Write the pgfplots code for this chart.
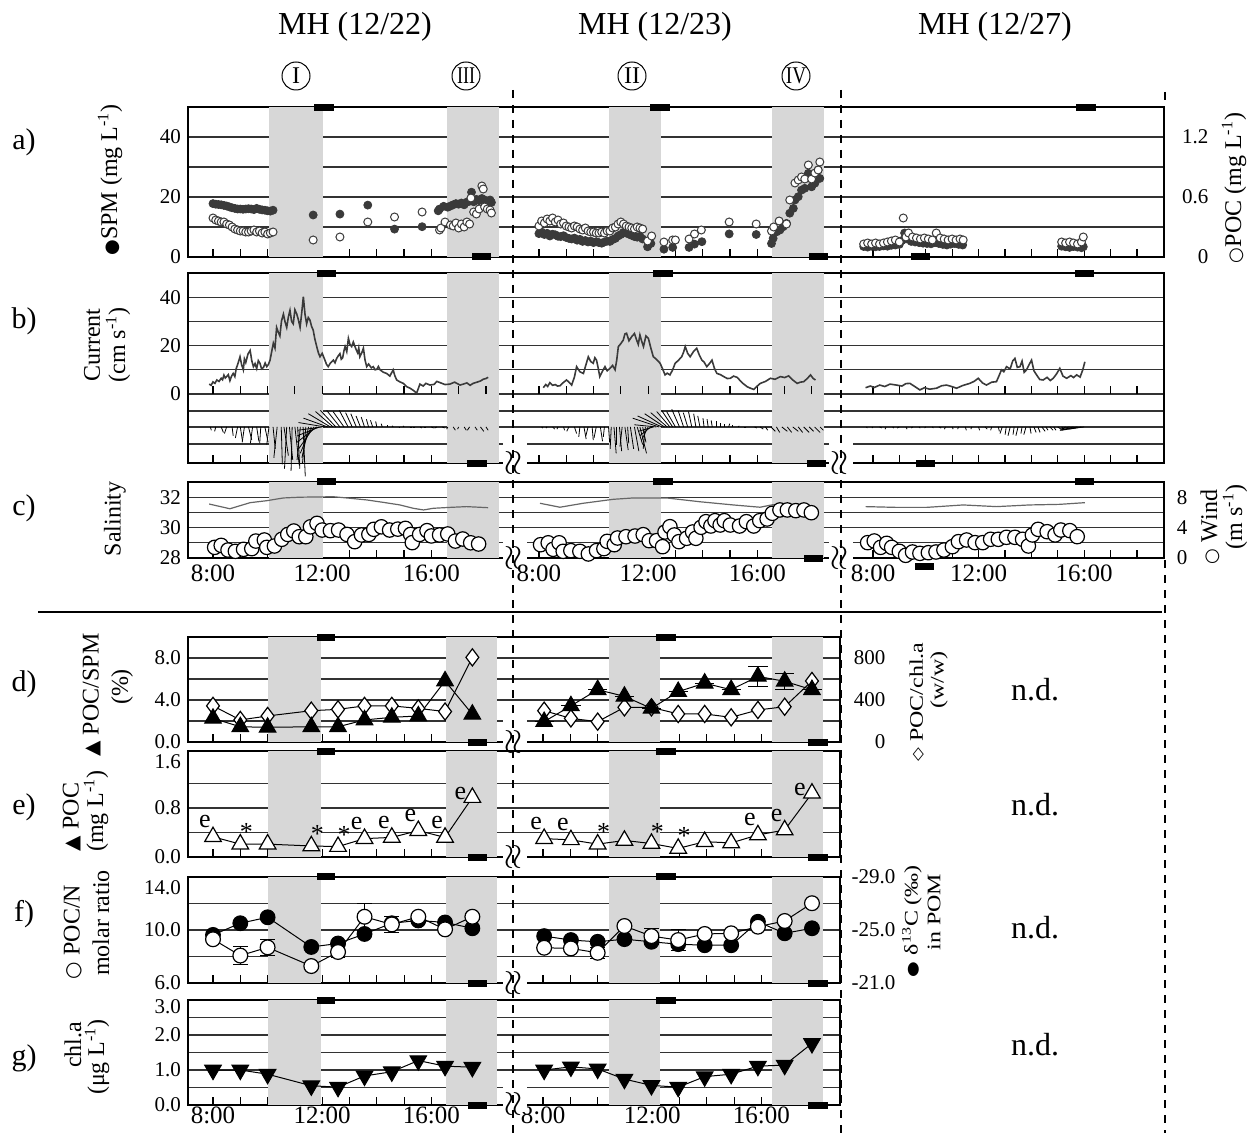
\documentclass[border=0pt]{standalone}
\usepackage{fontspec}
\setmainfont{Liberation Serif}
\newfontfamily\sym{DejaVu Sans}
\usepackage{pgfplots}
\usepackage{pgfplotstable}
\pgfplotsset{compat=1.18}
\definecolor{dk}{HTML}{3A3A3A}
\definecolor{shd}{HTML}{D7D7D7}
\newcommand\fs[1]{\fontsize{#1}{#1}\selectfont}
\newcommand\bbar[4][0pt]{\fill[black] ([yshift=-1.75pt+#1]axis cs:#2,#4) rectangle ([yshift=1.75pt+#1]axis cs:#3,#4);}

\pgfplotsset{
  panel/.style={scale only axis, anchor=south west, clip=false, set layers,
    xmin=7.084, axis line style={line width=0.7pt},
    ymajorgrids, grid style={black!80, line width=0.6pt},
    tick align=inside, xtick pos=left, major tick length=4pt,
    xtick style={black, line width=0.6pt}, ytick style={draw=none},
    xticklabel style={font=\fs{12.5}}, yticklabel style={font=\fs{10.5}}, xticklabels={}},
  upx/.style={xmax=42.84, width=488pt,
    xtick={8,9,10,11,12,13,14,15,16,17,18,19.94,20.94,21.94,22.94,23.94,24.94,25.94,26.94,27.94,28.94,29.94,32.18,33.147,34.114,35.081,36.048,37.015,37.982,38.949,39.916,40.883,41.85}},
  lowx/.style={xmax=30.967, width=326pt,
    xtick={8,9,10,11,12,13,14,15,16,17,18,20.09,21.09,22.09,23.09,24.09,25.09,26.09,27.09,28.09,29.09,30.09}},
  rlab/.style={scale only axis, anchor=south west, xmin=7.084, axis x line=none, axis y line*=right,
    ytick style={draw=none},
    yticklabel style={font=\fs{10.5}, text width=#1, align=right, inner sep=0pt}},
  dots/.style={only marks, mark=*, mark size=2pt, mark options={fill=dk, draw=dk}},
  ocirc/.style={only marks, mark=*, mark size=2pt, mark options={fill=white, draw=dk, line width=0.5pt}},
  sal/.style={black!60, line width=0.6pt},
  wind/.style={only marks, mark=*, mark size=3.6pt, mark options={fill=white, draw=black, line width=0.6pt}},
  cur/.style={dk, line width=0.8pt},
  stk/.style={black, line width=0.4pt, quiver={u=\thisrow{e}*0.0403, v=\thisrow{n}*0.4545}},
  ln/.style={black, line width=0.5pt},
}

% ---------- a) SPM (mg/L) and POC (mg/L)
\pgfplotstableread{
t v
8.0 17.8
8.1 17.6
8.2 17.5
8.3 17.4
8.4 17.2
8.5 17.0
8.6 16.7
8.7 16.4
8.8 16.2
8.9 16.0
9.0 16.0
9.1 15.9
9.2 16.0
9.3 16.1
9.4 16.0
9.5 15.8
9.6 16.2
9.7 15.9
9.8 15.7
9.9 15.6
10.0 15.4
10.1 15.3
10.2 15.6
11.67 14.0
12.65 14.3
13.67 17.3
14.65 9.3
15.66 10.1
16.25 15.4
16.3 16.0
16.45 16.9
16.6 16.6
16.7 17.0
16.8 17.4
16.9 17.8
17.0 17.6
17.1 18.0
17.2 17.4
17.3 18.3
17.4 18.6
17.47 21.6
17.55 18.4
17.65 19.2
17.75 18.8
17.85 19.5
17.95 19.0
18.05 18.6
18.15 19.0
18.2 18.2
}\spmA
\pgfplotstableread{
t v
8.0 0.39
8.1 0.37
8.2 0.36
8.3 0.35
8.4 0.35
8.5 0.33
8.6 0.32
8.7 0.30
8.8 0.28
8.9 0.27
9.0 0.26
9.1 0.26
9.2 0.25
9.3 0.25
9.4 0.26
9.5 0.27
9.6 0.25
9.7 0.26
9.8 0.24
9.9 0.25
10.0 0.23
10.1 0.24
10.2 0.25
11.67 0.17
12.65 0.20
13.67 0.35
14.65 0.40
15.66 0.45
16.3 0.27
16.35 0.29
16.5 0.35
16.7 0.32
16.8 0.31
16.9 0.34
17.0 0.29
17.1 0.33
17.2 0.30
17.3 0.35
17.4 0.33
17.45 0.59
17.55 0.45
17.65 0.43
17.75 0.48
17.85 0.71
17.9 0.68
17.95 0.50
18.05 0.48
18.15 0.47
18.2 0.44
}\pocA
\pgfplotstableread{
t v
8.0 7.8
8.1 8.3
8.2 7.5
8.3 7.9
8.4 7.0
8.5 7.6
8.6 7.4
8.7 6.9
8.8 6.8
8.9 7.1
9.0 6.5
9.1 6.2
9.2 6.0
9.3 6.3
9.4 5.6
9.5 5.9
9.6 5.2
9.7 5.5
9.8 5.0
9.9 5.3
10.0 4.8
10.1 5.1
10.2 4.8
10.3 4.6
10.4 5.0
10.5 5.3
10.6 5.2
10.7 5.8
10.8 6.2
10.9 7.0
11.0 7.5
11.1 8.2
11.2 8.0
11.3 7.6
11.4 7.2
11.5 6.8
11.6 6.6
11.7 6.9
11.8 6.0
11.98 3.4
12.1 4.5
12.58 2.6
12.9 3.2
13.5 3.2
13.7 4.3
13.97 5.1
14.97 7.7
15.96 7.5
16.52 4.5
16.58 6.2
16.71 8.4
16.83 9.0
16.95 10.1
17.07 11.2
17.19 14.6
17.32 16.2
17.38 19.0
17.50 20.1
17.62 22.3
17.74 22.9
17.87 27.9
17.99 23.4
18.11 24.6
18.23 29.0
18.29 26.2
}\spmB
\pgfplotstableread{
t v
8.0 0.31
8.1 0.36
8.2 0.34
8.3 0.38
8.4 0.36
8.5 0.39
8.6 0.35
8.7 0.37
8.8 0.33
8.9 0.34
9.0 0.31
9.1 0.30
9.2 0.29
9.3 0.31
9.4 0.30
9.5 0.28
9.6 0.27
9.7 0.29
9.8 0.26
9.9 0.25
10.0 0.25
10.1 0.24
10.2 0.24
10.3 0.25
10.4 0.24
10.5 0.26
10.6 0.26
10.7 0.29
10.8 0.30
10.9 0.33
11.0 0.35
11.1 0.33
11.2 0.31
11.3 0.30
11.4 0.29
11.5 0.28
11.6 0.30
11.7 0.29
11.8 0.28
11.98 0.16
12.13 0.21
12.58 0.15
12.9 0.17
13.0 0.17
13.5 0.18
13.7 0.23
13.95 0.27
14.97 0.35
15.96 0.33
16.52 0.26
16.6 0.30
16.8 0.36
17.07 0.33
17.19 0.57
17.38 0.74
17.50 0.77
17.62 0.80
17.74 0.78
17.87 0.92
17.99 0.78
18.11 0.84
18.23 0.87
18.29 0.95
}\pocB
\pgfplotstableread{
t v
7.65 3.5
7.8 3.3
7.95 3.6
8.1 3.4
8.25 3.5
8.4 3.7
8.55 3.6
8.7 3.9
8.85 4.0
9.0 4.2
9.1 5.5
9.2 8.0
9.3 6.0
9.45 5.2
9.6 5.0
9.75 4.8
9.9 4.6
10.05 4.5
10.2 4.4
10.35 4.8
10.5 4.5
10.65 4.2
10.8 4.0
10.95 4.3
11.1 4.5
11.25 4.2
11.4 4.0
15.15 3.6
15.3 3.4
15.45 3.2
15.6 3.5
15.75 3.3
15.9 3.1
15.97 3.4
}\spmC
\pgfplotstableread{
t v
7.65 0.13
7.8 0.14
7.95 0.13
8.1 0.14
8.25 0.13
8.4 0.14
8.55 0.15
8.7 0.16
8.85 0.17
9.0 0.15
9.15 0.39
9.25 0.20
9.35 0.24
9.5 0.20
9.65 0.19
9.8 0.18
9.95 0.19
10.1 0.18
10.25 0.17
10.4 0.24
10.55 0.19
10.7 0.18
10.85 0.17
11.0 0.18
11.15 0.17
11.3 0.18
11.42 0.17
15.15 0.15
15.3 0.14
15.45 0.15
15.6 0.14
15.75 0.13
15.9 0.15
15.97 0.20
}\pocC

% ---------- b) current speed (cm/s) and stick vectors (east, north)
\pgfplotstableread{
t v
7.86 4.1
7.93 3.6
8.0 5.0
8.07 4.4
8.14 5.8
8.22 5.2
8.3 6.5
8.35 5.9
8.4 7.8
8.45 6.6
8.5 7.2
8.56 8.0
8.62 5.5
8.68 7.4
8.74 8.5
8.8 7.2
8.85 10.5
8.92 12.8
8.99 15.4
9.05 12.0
9.11 10.0
9.15 14.5
9.2 13.0
9.28 16.5
9.36 18.0
9.42 13.8
9.48 11.3
9.54 12.6
9.6 10.5
9.66 13.8
9.72 12.7
9.78 10.4
9.85 11.0
9.91 12.8
9.97 11.3
10.03 12.2
10.09 14.0
10.15 17.5
10.21 21.0
10.27 19.0
10.33 27.5
10.39 25.6
10.45 24.0
10.51 30.2
10.58 33.0
10.64 29.8
10.70 27.5
10.76 31.8
10.82 34.6
10.88 30.0
10.94 29.0
11.0 34.8
11.07 33.0
11.13 30.6
11.19 27.5
11.25 33.5
11.31 40.2
11.37 33.0
11.43 29.0
11.49 31.6
11.55 30.6
11.61 28.0
11.67 26.4
11.73 22.8
11.80 19.6
11.86 17.0
11.92 15.4
12.0 16.8
12.10 14.0
12.16 12.2
12.22 11.3
12.3 12.8
12.41 14.0
12.47 12.9
12.53 14.7
12.59 15.8
12.65 16.7
12.7 14.4
12.75 15.0
12.8 18.0
12.84 19.6
12.9 17.5
12.96 23.0
13.02 20.4
13.08 19.6
13.14 21.5
13.20 19.6
13.25 18.2
13.30 17.0
13.34 19.0
13.38 15.4
13.45 17.0
13.51 18.9
13.57 14.0
13.63 11.3
13.7 12.4
13.8 10.8
13.87 11.3
13.94 10.0
14.0 10.2
14.06 11.4
14.12 10.0
14.24 9.0
14.36 8.5
14.48 7.4
14.60 10.0
14.66 7.6
14.73 5.8
14.85 5.0
14.97 4.4
15.1 3.0
15.22 2.4
15.34 1.5
15.46 0.4
15.52 2.2
15.58 4.1
15.7 3.3
15.8 4.4
15.95 3.7
16.1 4.0
16.2 5.2
16.32 4.7
16.5 3.9
16.68 4.1
16.85 4.9
17.05 3.7
17.2 4.2
17.30 4.6
17.42 3.6
17.53 4.4
17.7 5.0
17.80 5.4
17.90 6.1
18.0 6.4
18.08 6.9
}\curA
\pgfplotstableread{
t v
8.16 2.6
8.25 3.9
8.32 3.1
8.40 4.7
8.5 3.6
8.6 3.9
8.68 3.3
8.77 3.4
8.88 4.6
9.01 5.8
9.1 4.9
9.20 3.7
9.3 7.0
9.38 11.3
9.5 9.2
9.63 8.5
9.72 12.0
9.81 15.4
9.9 13.4
9.99 12.7
10.05 15.0
10.11 14.0
10.17 10.8
10.23 7.2
10.33 9.5
10.42 11.3
10.5 9.6
10.60 10.6
10.7 11.8
10.79 10.0
10.85 14.0
10.91 19.6
11.0 20.8
11.09 22.3
11.15 24.8
11.21 25.1
11.3 22.0
11.40 23.7
11.5 25.0
11.58 22.3
11.64 20.5
11.70 24.4
11.76 22.0
11.83 19.6
11.92 24.0
12.01 23.0
12.1 19.0
12.19 15.4
12.3 14.4
12.44 12.7
12.53 10.4
12.62 7.9
12.7 8.6
12.80 7.9
12.9 10.0
12.99 12.7
13.1 13.8
13.23 15.4
13.3 17.3
13.36 19.6
13.45 16.8
13.54 15.4
13.66 17.5
13.78 18.9
13.88 16.0
13.97 14.0
14.05 13.2
14.15 11.3
14.25 12.6
14.34 14.0
14.43 10.6
14.52 8.5
14.65 8.0
14.77 7.2
14.9 6.4
15.01 6.5
15.13 7.4
15.26 6.9
15.45 4.6
15.63 3.0
15.75 2.4
15.87 1.9
16.0 3.3
16.11 4.4
16.3 5.2
16.48 6.5
16.65 6.1
16.85 7.2
17.0 6.8
17.15 7.5
17.3 5.8
17.46 4.4
17.58 4.9
17.70 5.1
17.83 6.4
17.95 7.9
18.05 6.4
18.13 5.8
}\curB
\pgfplotstableread{
t v
7.72 2.6
7.9 3.3
8.05 2.7
8.26 3.7
8.45 3.1
8.65 4.1
8.89 3.7
9.1 3.3
9.25 4.3
9.40 4.4
9.6 3.0
9.78 1.7
9.95 2.6
10.15 2.0
10.41 2.4
10.6 3.4
10.79 3.7
10.98 3.1
11.17 2.4
11.4 3.5
11.67 4.4
11.83 5.2
11.99 6.5
12.15 4.6
12.30 3.7
12.5 4.9
12.68 5.1
12.78 7.6
12.87 10.0
12.96 9.2
13.06 11.3
13.2 10.4
13.3 13.8
13.38 14.7
13.47 11.0
13.57 11.3
13.65 13.6
13.73 9.0
13.82 10.0
13.92 12.2
14.01 14.0
14.1 9.6
14.20 7.9
14.32 6.0
14.45 5.8
14.6 6.9
14.72 5.6
14.83 6.5
14.95 8.2
15.08 10.6
15.2 7.4
15.34 6.5
15.5 7.6
15.6 6.8
15.72 7.9
15.85 7.0
15.95 10.0
16.03 13.3
}\curC
\pgfplotstableread{
t e n
7.9 1 -3
8.1 -1 -4
8.3 2 -5
8.5 -2 -6
8.7 1 -8
8.9 -2 -10
9.0 2 -13
9.15 -2 -14
9.3 3 -12
9.45 -2 -15
9.6 2 -13
9.75 -1 -15
9.9 3 -14
10.05 -2 -16
10.2 2 -20
10.35 -3 -28
10.5 1 -34
10.6 4 -26
10.7 -2 -38
10.8 3 -30
10.9 -1 -40
11.0 4 -35
11.1 2 -38
11.2 -3 -30
11.3 2 -45
11.4 -3 -33
11.5 -6 -28
11.6 -10 -24
11.7 -14 -20
11.8 -18 -14
11.9 -20 -8
12.0 -22 -3
12.1 -24 4
12.2 -22 8
12.3 -20 12
12.4 -16 14
12.5 -14 15
12.65 -12 15
12.8 -10 14
12.95 -8 15
13.1 -6 13
13.25 -5 12
13.4 -4 10
13.55 -3 9
13.7 -2 7
13.85 -2 6
14.0 -1 5
14.2 -1 3
14.4 0 2
14.6 -1 1
14.8 1 0
15.0 -1 1
15.2 2 0
15.4 -2 0
15.6 1 -1
15.8 -2 0
16.0 2 -1
16.2 -2 -1
16.4 2 -1
16.6 -1 -2
16.8 2 -3
17.0 -1 -2
17.2 2 -3
17.4 -2 -3
17.6 2 -3
17.8 3 -4
18.0 2 -3
}\stkA
\pgfplotstableread{
t e n
8.1 1 -1
8.3 -1 -1
8.5 2 -2
8.7 -1 -2
8.9 1 -3
9.1 -2 -4
9.3 2 -6
9.5 -1 -9
9.65 2 -11
9.8 -2 -8
9.95 1 -12
10.1 -2 -10
10.25 2 -13
10.4 -1 -9
10.55 1 -14
10.65 -1 -20
10.75 2 -24
10.85 0 -16
10.95 2 -22
11.05 -2 -18
11.15 3 -21
11.25 1 -15
11.35 3 -20
11.5 4 -22
11.6 5 -16
11.7 6 -24
11.8 3 -14
11.9 -2 -20
12.0 -6 -12
12.1 -10 -8
12.2 -14 -4
12.3 -20 2
12.4 -24 8
12.5 -22 10
12.6 -18 12
12.7 -15 13
12.8 -12 14
12.9 -10 15
13.0 -8 14
13.15 -7 16
13.3 -5 15
13.45 -4 13
13.6 -3 14
13.75 -2 12
13.9 -2 10
14.05 -1 8
14.2 -1 7
14.35 -1 6
14.5 0 5
14.65 0 4
14.8 0 3
14.95 1 3
15.1 0 2
15.3 1 1
15.6 -2 0
15.9 2 -1
16.1 3 -2
16.3 2 -3
16.5 4 -4
16.7 3 -5
16.9 5 -4
17.1 4 -5
17.3 5 -4
17.5 4 -5
17.7 5 -5
17.9 4 -4
18.1 5 -5
18.3 3 -3
}\stkB
\pgfplotstableread{
t e n
7.75 1 -1
8.0 -1 -1
8.25 2 -1
8.5 -1 -2
8.75 1 -1
9.0 -2 -1
9.25 1 -2
9.5 -1 -1
9.75 1 -1
10.0 -1 -1
10.25 1 -1
10.5 2 -1
10.75 -1 -2
11.0 1 -2
11.25 -1 -2
11.5 1 -3
11.75 -1 -2
12.0 1 -3
12.25 2 -2
12.5 -1 -3
12.75 1 -4
12.9 -2 -6
13.05 -1 -7
13.2 -2 -8
13.35 -1 -7
13.5 -2 -8
13.65 -1 -6
13.8 -2 -7
13.95 1 -6
14.1 2 -5
14.25 2 -5
14.4 3 -4
14.55 2 -3
14.7 3 -3
14.85 2 -3
15.0 3 -2
15.15 2 -2
15.3 -4 -2
15.45 -8 -2
15.6 -12 -3
15.75 -16 -3
15.9 -18 -3
16.0 -14 -2
}\stkC

% ---------- c) salinity and wind (m/s)
\pgfplotstableread{
t s
7.86 31.55
8.62 31.24
9.36 31.64
9.97 31.77
10.58 31.95
11.19 32.00
12.41 32.03
13.02 31.93
13.63 31.82
14.24 31.66
14.85 31.49
15.34 31.27
15.71 31.16
16.07 31.27
16.68 31.33
17.29 31.38
18.08 31.31
}\salA
\pgfplotstableread{
t s
8.04 31.60
8.77 31.34
9.62 31.60
10.72 31.86
11.45 31.95
12.68 31.95
13.90 31.70
15.12 31.49
16.10 31.34
16.58 31.51
17.32 31.51
17.99 31.38
}\salB
\pgfplotstableread{
t s
7.72 31.38
8.89 31.33
10.03 31.33
11.42 31.49
12.68 31.38
13.94 31.49
15.08 31.53
16.03 31.64
}\salC
\pgfplotstableread{
t w
8.06 1.40
8.30 1.66
8.55 1.05
8.82 0.88
9.12 1.14
9.42 1.23
9.57 2.23
9.88 2.37
9.97 1.40
10.25 1.58
10.52 2.46
10.74 3.10
10.96 3.55
11.16 2.80
11.40 2.80
11.57 4.10
11.81 4.56
12.00 3.68
12.30 3.60
12.60 3.68
12.91 3.10
13.19 2.15
13.44 3.03
13.71 3.10
13.89 3.77
14.17 4.10
14.47 3.68
14.77 3.80
15.05 3.90
15.24 3.10
15.30 2.02
15.57 3.10
15.84 3.60
16.00 2.90
16.30 3.03
16.60 3.16
16.88 2.23
17.15 2.50
17.44 2.00
17.73 1.84
}\wndA
\pgfplotstableread{
t w
8.06 1.75
8.34 2.00
8.52 1.14
8.74 2.00
8.89 0.88
9.17 0.97
9.50 0.88
9.81 0.53
10.11 0.97
10.38 1.23
10.50 2.19
10.76 1.75
10.88 2.63
11.19 2.80
11.52 2.89
11.82 3.07
12.04 2.28
12.31 2.28
12.53 1.49
12.62 3.42
12.80 4.12
12.96 3.03
13.13 2.15
13.41 2.59
13.63 3.42
13.75 2.59
13.94 4.04
14.12 4.78
14.30 4.21
14.45 4.91
14.64 4.34
14.79 4.91
15.01 4.34
15.35 4.21
15.60 4.78
15.87 4.21
16.09 4.91
16.36 5.13
16.55 5.88
16.83 6.32
17.10 6.32
17.41 6.23
17.71 6.32
17.98 5.96
}\wndB
\pgfplotstableread{
t w
7.80 2.02
8.05 2.24
8.29 1.40
8.52 1.93
8.71 1.40
9.00 0.88
9.24 0.35
9.50 0.79
9.78 0.61
10.10 0.70
10.39 0.79
10.69 1.05
11.01 1.49
11.24 2.15
11.55 2.37
11.87 2.02
12.16 2.02
12.46 2.46
12.75 2.46
13.06 2.72
13.38 2.72
13.67 2.46
13.89 1.58
14.04 3.03
14.26 3.77
14.60 3.46
14.90 3.03
15.12 3.68
15.46 3.60
15.74 2.81
}\wndC

\begin{document}
\begin{tikzpicture}
\path (0,0) rectangle (627pt,-566.5pt);

% ================= a)
\begin{axis}[panel, upx, at={(94pt,-128.5pt)}, height=75pt, ymin=0, ymax=50,
  ytick={0,10,20,30,40}, yticklabels={0,,20,,40}]
\fill[shd, on layer=axis background] (axis cs:10.05,0) rectangle (axis cs:12.03,50);
\fill[shd, on layer=axis background] (axis cs:16.57,0) rectangle (axis cs:18.48,50);
\fill[shd, on layer=axis background] (axis cs:22.51,0) rectangle (axis cs:24.41,50);
\fill[shd, on layer=axis background] (axis cs:28.48,0) rectangle (axis cs:30.38,50);
\addplot[dots] table[x=t, y=v] \spmA;
\addplot[ocirc] table[x=t, y expr=\thisrow{v}/0.03] \pocA;
\addplot[dots] table[x expr=\thisrow{t}+11.94, y=v] \spmB;
\addplot[ocirc] table[x expr=\thisrow{t}+11.94, y expr=\thisrow{v}/0.03] \pocB;
\addplot[dots] table[x expr=0.967*\thisrow{t}+24.44, y=v] \spmC;
\addplot[ocirc] table[x expr=0.967*\thisrow{t}+24.44, y expr=\thisrow{v}/0.03] \pocC;
\bbar{11.70}{12.43}{50} \bbar{17.49}{18.18}{0}
\bbar{24.01}{24.74}{50} \bbar{29.83}{30.53}{0}
\bbar{39.61}{40.34}{50} \bbar{33.57}{34.26}{0}
\end{axis}
\begin{axis}[rlab=22pt, at={(94pt,-128.5pt)}, width=488pt, height=75pt, xmax=42.84,
  ymin=0, ymax=1.5, ytick={0,0.6,1.2}, yticklabels={0,0.6,1.2}]
\addplot[draw=none] coordinates {(8,0)};
\end{axis}

% ================= b)
\begin{axis}[panel, upx, at={(94pt,-231.5pt)}, height=95pt, ymin=-28.5, ymax=50,
  ytick={0,10,20,30,40}, yticklabels={0,,20,,40},
  extra y ticks={-7.02,-13.6,-20.66}, extra y tick labels={}, extra y tick style={grid=major}]
\fill[shd, on layer=axis background] (axis cs:10.05,-28.5) rectangle (axis cs:12.03,50);
\fill[shd, on layer=axis background] (axis cs:16.57,-28.5) rectangle (axis cs:18.48,50);
\fill[shd, on layer=axis background] (axis cs:22.51,-28.5) rectangle (axis cs:24.41,50);
\fill[shd, on layer=axis background] (axis cs:28.48,-28.5) rectangle (axis cs:30.38,50);
\addplot[ycomb, black, line width=0.6pt] coordinates {
 (8,3.3)(9,3.3)(10,3.3)(11,3.3)(12,3.3)(13,3.3)(14,3.3)(15,3.3)(16,3.3)(17,3.3)(18,3.3)
 (19.94,3.3)(20.94,3.3)(21.94,3.3)(22.94,3.3)(23.94,3.3)(24.94,3.3)(25.94,3.3)(26.94,3.3)(27.94,3.3)(28.94,3.3)(29.94,3.3)
 (32.18,3.3)(33.147,3.3)(34.114,3.3)(35.081,3.3)(36.048,3.3)(37.015,3.3)(37.982,3.3)(38.949,3.3)(39.916,3.3)(40.883,3.3)(41.85,3.3)};
\addplot[cur] table[x=t, y=v] \curA;
\addplot[cur] table[x expr=\thisrow{t}+11.94, y=v] \curB;
\addplot[cur] table[x expr=0.967*\thisrow{t}+24.44, y=v] \curC;
\addplot[stk] table[x=t, y expr=-13.6] \stkA;
\addplot[stk] table[x expr=\thisrow{t}+11.94, y expr=-13.6] \stkB;
\addplot[stk] table[x expr=0.967*\thisrow{t}+24.44, y expr=-13.6] \stkC;
\bbar{11.81}{12.51}{50} \bbar{17.30}{18.04}{-28.5}
\bbar{24.12}{24.85}{50} \bbar{29.76}{30.45}{-28.5}
\bbar{39.58}{40.27}{50} \bbar{33.75}{34.45}{-28.5}
\end{axis}

% ================= c)
\begin{axis}[panel, upx, at={(94pt,-279pt)}, height=38pt, ymin=28, ymax=33,
  ytick={28,29,30,31,32}, yticklabels={28,,30,,32},
  xticklabels={8:00,,,,12:00,,,,16:00,,,8:00,,,,12:00,,,,16:00,,,8:00,,,,12:00,,,,16:00,,}]
\fill[shd, on layer=axis background] (axis cs:10.05,28) rectangle (axis cs:12.03,33);
\fill[shd, on layer=axis background] (axis cs:16.57,28) rectangle (axis cs:18.48,33);
\fill[shd, on layer=axis background] (axis cs:22.51,28) rectangle (axis cs:24.41,33);
\fill[shd, on layer=axis background] (axis cs:28.48,28) rectangle (axis cs:30.38,33);
\addplot[sal] table[x=t, y=s] \salA;
\addplot[sal] table[x expr=\thisrow{t}+11.94, y=s] \salB;
\addplot[sal] table[x expr=0.967*\thisrow{t}+24.44, y=s] \salC;
\addplot[wind] table[x=t, y expr=28+\thisrow{w}/2] \wndA;
\addplot[wind] table[x expr=\thisrow{t}+11.94, y expr=28+\thisrow{w}/2] \wndB;
\addplot[wind] table[x expr=0.967*\thisrow{t}+24.44, y expr=28+\thisrow{w}/2] \wndC;
\bbar{11.81}{12.51}{33}
\bbar{24.12}{24.85}{33} \bbar{29.65}{30.34}{28}
\bbar{39.58}{40.27}{33} \bbar[-4pt]{33.71}{34.41}{28}
\end{axis}
\begin{axis}[rlab=11.5pt, at={(94pt,-279pt)}, width=488pt, height=38pt, xmax=42.84,
  ymin=0, ymax=10, ytick={0,4,8}, yticklabels={0,4,8}]
\addplot[draw=none] coordinates {(8,0)};
\end{axis}

% ================= d)
\begin{axis}[panel, lowx, at={(94pt,-371pt)}, height=52.5pt, ymin=0, ymax=10,
  ytick={0,2,4,6,8}, yticklabels={0.0,,4.0,,8.0}]
\fill[shd, on layer=axis background] (axis cs:10.01,0) rectangle (axis cs:11.96,10);
\fill[shd, on layer=axis background] (axis cs:16.53,0) rectangle (axis cs:18.40,10);
\fill[shd, on layer=axis background] (axis cs:22.51,0) rectangle (axis cs:24.37,10);
\fill[shd, on layer=axis background] (axis cs:28.48,0) rectangle (axis cs:30.34,10);
% POC/chl.a (w/w), right scale /100
\addplot[ln, mark=diamond*, mark size=4.3pt, mark options={fill=white, line width=0.6pt}]
  table[x=t, y expr=\thisrow{r}/100] {
t r
8.0 344
9.0 210
10.0 248
11.6 298
12.58 311
13.55 344
14.55 344
15.52 320
16.5 290
17.5 806
};
\addplot[ln, mark=diamond*, mark size=4.3pt, mark options={fill=white, line width=0.6pt}]
  table[x expr=\thisrow{t}+12.09, y expr=\thisrow{r}/100] {
t r
8.04 298
9.02 225
10.0 194
10.98 330
11.97 330
12.95 267
13.92 267
14.89 235
15.87 305
16.85 336
17.85 581
};
% POC/SPM (%)
\addplot[ln, mark=triangle*, mark size=4.8pt, mark options={fill=black}] coordinates {
(8.0,2.25)(9.0,1.45)(10.0,1.4)(11.6,1.45)(12.58,1.45)(13.55,2.1)(14.55,2.35)(15.52,2.48)(16.5,5.81)(17.5,2.64)};
\addplot[ln, mark=triangle*, mark size=4.8pt, mark options={fill=black},
  error bars/.cd, y dir=both, y explicit, error bar style={line width=0.5pt}] coordinates {
(20.13,1.94) +- (0,0) (21.11,3.44) +- (0,0) (22.09,4.98) +- (0,0) (23.07,4.35) +- (0,0)
(24.06,3.2) +- (0,0) (25.04,4.8) +- (0,0) (26.01,5.6) +- (0,0) (26.98,4.98) +- (0,0)
(27.96,6.25) +- (0,0.95) (28.94,5.78) +- (0,0.8) (29.94,4.98) +- (0,0)};
\bbar{11.81}{12.47}{10} \bbar{17.34}{18.04}{0}
\bbar{24.23}{24.96}{10} \bbar{29.79}{30.53}{0}
\end{axis}
\begin{axis}[rlab=22.5pt, at={(94pt,-371pt)}, width=326pt, height=52.5pt, xmax=30.967,
  ymin=0, ymax=1000, ytick={0,400,800}, yticklabels={0,400,800}]
\addplot[draw=none] coordinates {(8,0)};
\end{axis}

% ================= e)
\begin{axis}[panel, lowx, at={(94pt,-428.5pt)}, height=53pt, ymin=0, ymax=1.73,
  ytick={0,0.4,0.8,1.2}, yticklabels={0.0,,0.8,},
  extra y ticks={1.56}, extra y tick labels={1.6}, extra y tick style={grid=none}]
\fill[shd, on layer=axis background] (axis cs:10.01,0) rectangle (axis cs:11.96,1.73);
\fill[shd, on layer=axis background] (axis cs:16.53,0) rectangle (axis cs:18.40,1.73);
\fill[shd, on layer=axis background] (axis cs:22.51,0) rectangle (axis cs:24.37,1.73);
\fill[shd, on layer=axis background] (axis cs:28.48,0) rectangle (axis cs:30.34,1.73);
\addplot[ln, mark=triangle*, mark size=4.8pt, mark options={fill=white, line width=0.6pt}] coordinates {
(8.0,0.33)(9.0,0.21)(10.0,0.21)(11.6,0.18)(12.58,0.17)(13.55,0.30)(14.55,0.32)(15.52,0.43)(16.5,0.32)(17.5,0.97)};
\addplot[ln, mark=triangle*, mark size=4.8pt, mark options={fill=white, line width=0.6pt}] coordinates {
(20.13,0.30)(21.11,0.28)(22.09,0.21)(23.07,0.27)(24.06,0.22)(25.04,0.14)(26.01,0.25)(26.98,0.23)(27.96,0.36)(28.94,0.44)(29.94,1.04)};
\bbar{11.81}{12.47}{1.73} \bbar{17.34}{18.04}{0}
\bbar{24.23}{24.96}{1.73} \bbar{29.79}{30.53}{0}
\end{axis}

% ================= f)
\begin{axis}[panel, lowx, at={(94pt,-491.5pt)}, height=53pt, ymin=6, ymax=14,
  ytick={6,8,10,12}, yticklabels={6.0,,10.0,}, extra y ticks={13.2}, extra y tick labels={14.0},
  extra y tick style={grid=none}]
\fill[shd, on layer=axis background] (axis cs:10.01,6) rectangle (axis cs:11.96,14);
\fill[shd, on layer=axis background] (axis cs:16.53,6) rectangle (axis cs:18.40,14);
\fill[shd, on layer=axis background] (axis cs:22.51,6) rectangle (axis cs:24.37,14);
\fill[shd, on layer=axis background] (axis cs:28.48,6) rectangle (axis cs:30.34,14);
% delta13C in POM (permil), right scale: plotted as -d-15
\addplot[ln, mark=*, mark size=3.7pt, mark options={fill=black}] table[x=t, y expr=-\thisrow{d}-15] {
t d
8.0 -24.63
9.0 -25.51
10.0 -25.96
11.6 -23.72
12.58 -23.98
13.55 -24.70
14.55 -25.51
15.52 -25.72
16.5 -25.57
17.5 -25.13
};
\addplot[ln, mark=*, mark size=3.7pt, mark options={fill=black}] table[x expr=\thisrow{t}+12.09, y expr=-\thisrow{d}-15] {
t d
8.04 -24.54
9.02 -24.24
10.0 -24.11
10.98 -24.31
11.97 -24.11
12.95 -23.93
13.92 -23.85
14.89 -23.85
15.87 -25.62
16.85 -24.75
17.85 -25.13
};
% POC/N molar ratio
\addplot[ln, mark=*, mark size=3.7pt, mark options={fill=white, line width=0.6pt},
  error bars/.cd, y dir=both, y explicit, error bar style={line width=0.5pt}] coordinates {
(8.0,9.3) +- (0,0) (9.0,8.07) +- (0,0.7) (10.0,8.69) +- (0,0.6) (11.6,7.28) +- (0,0)
(12.58,8.34) +- (0,0.4) (13.55,11.0) +- (0,1.0) (14.55,10.42) +- (0,0.6) (15.52,11.0) +- (0,0)
(16.5,10.05) +- (0,0) (17.5,11.0) +- (0,0)};
\addplot[ln, mark=*, mark size=3.7pt, mark options={fill=white, line width=0.6pt},
  error bars/.cd, y dir=both, y explicit, error bar style={line width=0.5pt}] coordinates {
(20.13,8.66) +- (0,0) (21.11,8.61) +- (0,0) (22.09,8.28) +- (0,0.4) (23.07,10.3) +- (0,0)
(24.06,9.54) +- (0,0.6) (25.04,9.24) +- (0,0.8) (26.01,9.7) +- (0,0) (26.98,9.75) +- (0,0)
(27.96,10.25) +- (0,0) (28.94,10.68) +- (0,0) (29.94,12.02) +- (0,0)};
\bbar{11.81}{12.47}{14} \bbar{17.34}{18.04}{6}
\bbar{24.23}{24.96}{14} \bbar{29.79}{30.53}{6}
\end{axis}
\begin{axis}[rlab=27.5pt, at={(94pt,-491.5pt)}, width=326pt, height=53pt, xmax=30.967,
  y dir=reverse, ymin=-29, ymax=-21, ytick={-29,-25,-21}, yticklabels={-29.0,-25.0,-21.0}]
\addplot[draw=none] coordinates {(8,-25)};
\end{axis}

% ================= g)
\begin{axis}[panel, lowx, at={(94pt,-552.5pt)}, height=52.5pt, ymin=0, ymax=3,
  ytick={0,0.5,1,1.5,2,2.5}, yticklabels={0.0,,1.0,,2.0,}, extra y ticks={2.82}, extra y tick labels={3.0},
  extra y tick style={grid=none},
  xticklabels={8:00,,,,12:00,,,,16:00,,,8:00,,,,12:00,,,,16:00,,},
  xticklabel style={yshift=2.5pt}]
\fill[shd, on layer=axis background] (axis cs:10.01,0) rectangle (axis cs:11.96,3);
\fill[shd, on layer=axis background] (axis cs:16.53,0) rectangle (axis cs:18.40,3);
\fill[shd, on layer=axis background] (axis cs:22.51,0) rectangle (axis cs:24.37,3);
\fill[shd, on layer=axis background] (axis cs:28.48,0) rectangle (axis cs:30.34,3);
\addplot[ln, mark=triangle*, mark size=4.8pt, mark options={fill=black, rotate=180}] coordinates {
(8.0,1.0)(9.0,1.0)(10.0,0.88)(11.6,0.55)(12.58,0.51)(13.55,0.83)(14.55,0.95)(15.52,1.27)(16.5,1.11)(17.5,1.08)};
\addplot[ln, mark=triangle*, mark size=4.8pt, mark options={fill=black, rotate=180}] coordinates {
(20.13,1.0)(21.11,1.09)(22.09,1.03)(23.07,0.74)(24.06,0.56)(25.04,0.51)(26.01,0.81)(26.98,0.88)(27.96,1.11)(28.94,1.14)(29.94,1.76)};
\bbar{11.81}{12.47}{3} \bbar{17.34}{18.04}{0}
\bbar{24.23}{24.96}{3} \bbar{29.79}{30.53}{0}
\end{axis}

% ================= decorations in pixel units of the reference
\begin{scope}[x=0.5pt, y=-0.5pt]
% breaks
\fill[white] (503,437) rectangle (527,470);
\fill[white] (829,437) rectangle (853,470);
\fill[white] (503,535) rectangle (527,562);
\fill[white] (829,535) rectangle (853,562);
\fill[white] (503,712) rectangle (527,750);
\fill[white] (503,845) rectangle (527,865);
\fill[white] (503,970) rectangle (527,990);
\fill[white] (503,1080) rectangle (527,1112);
\foreach \p in {(514,463),(840,463),(514,558),(840,558),(514,742),(514,857),(514,983),(514,1104)}
  \node[rotate=90, font=\fs{17}, inner sep=0pt] at \p {$\approx$};
% separators
\draw[dash pattern=on 4pt off 3.5pt, line width=0.6pt] (513,90) -- (513,1133);
\draw[dash pattern=on 4pt off 3.5pt, line width=0.6pt] (841,90) -- (841,1133);
\draw[dash pattern=on 4pt off 3.5pt, line width=0.6pt] (1165,92) -- (1165,107);
\draw[dash pattern=on 4pt off 3.5pt, line width=0.6pt] (1165,560) -- (1165,1133);
\draw[line width=0.6pt] (38,612) -- (1162,612);
% titles
\node[font=\fs{16}] at (355,27) {MH (12/22)};
\node[font=\fs{16}] at (655,27) {MH (12/23)};
\node[font=\fs{16}] at (995,27) {MH (12/27)};
\foreach \x/\r in {296/I,466/\scalebox{0.75}[1]{III},632/II,796/\scalebox{0.8}[1]{IV}}
  \node[draw, circle, minimum size=14pt, inner sep=0pt, line width=0.5pt, font=\fs{12}] at (\x,76) {\r};
% panel letters
\foreach \y/\l in {142/a), 321/b), 508/c), 684/d), 807/e), 914/f), 1058/g)}
  \node[font=\fs{15}] at (24,\y) {\l};
% y labels
\begin{scope}[every node/.style={rotate=90, font=\fs{12}, inner sep=0pt}]
\node at (110,180) {{\sym\fs{9}●}SPM (mg L\textsuperscript{-1})};
\node at (92,345) {Current};
\node at (118,345) {(cm s\textsuperscript{-1})};
\node at (115,519) {Salinity};
\node at (1234,188) {{\sym\fs{9}○}POC (mg L\textsuperscript{-1})};
\node at (1210,527) {{\sym\fs{9}○} Wind};
\node at (1235,517) {(m s\textsuperscript{-1})};
\node at (92,695) {{\sym\fs{10}▲} POC/SPM};
\node at (122,687) {(\%)};
\node at (72,817) {{\sym\fs{10}▲} POC};
\node at (96,811) {(mg L\textsuperscript{-1})};
\node at (73,932) {{\sym\fs{10}○} POC/N};
\node at (101,923) {molar ratio};
\node at (73,1045) {chl.a};
\node at (97,1057) {(μg L\textsuperscript{-1})};
\node at (917,702) {\scalebox{1}[0.8]{{\sym\fs{9}◇} POC/chl.a}};
\node at (939,680) {\scalebox{1}[0.8]{(w/w)}};
\node at (912,921) {\scalebox{1}[0.8]{{\sym\fs{9}●} δ\textsuperscript{13}C (‰)}};
\node at (934,912) {\scalebox{1}[0.8]{in POM}};
\end{scope}
% n.d.
\foreach \y in {690,805,928,1045} \node[font=\fs{16}] at (1035,\y) {n.d.};
\end{scope}

% e / * annotations in e)
\begin{axis}[scale only axis, anchor=south west, at={(94pt,-428.5pt)}, width=326pt, height=53pt,
  xmin=7.084, xmax=30.967, ymin=0, ymax=1.73, hide axis, clip=false]
\addplot[draw=none, nodes near coords, point meta=explicit symbolic,
  nodes near coords style={font=\fs{13}, anchor=center, xshift=-4pt, yshift=7.5pt}] coordinates {
(8.0,0.33)[e] (13.55,0.30)[e] (14.55,0.32)[e] (15.52,0.43)[e] (16.5,0.32)[e]
(20.13,0.30)[e] (21.11,0.28)[e] (27.96,0.36)[e] (28.94,0.44)[e]};
\addplot[draw=none, nodes near coords, point meta=explicit symbolic,
  nodes near coords style={font=\fs{13}, anchor=center, xshift=3pt, yshift=6pt}] coordinates {
(9.0,0.21)[*] (11.6,0.18)[*] (12.58,0.17)[*] (22.09,0.21)[*] (24.06,0.22)[*] (25.04,0.14)[*]};
\addplot[draw=none, nodes near coords, point meta=explicit symbolic,
  nodes near coords style={font=\fs{13}, anchor=center, xshift=-6pt, yshift=2pt}] coordinates {
(17.5,0.97)[e] (29.94,1.04)[e]};
\end{axis}
\end{tikzpicture}
\end{document}
